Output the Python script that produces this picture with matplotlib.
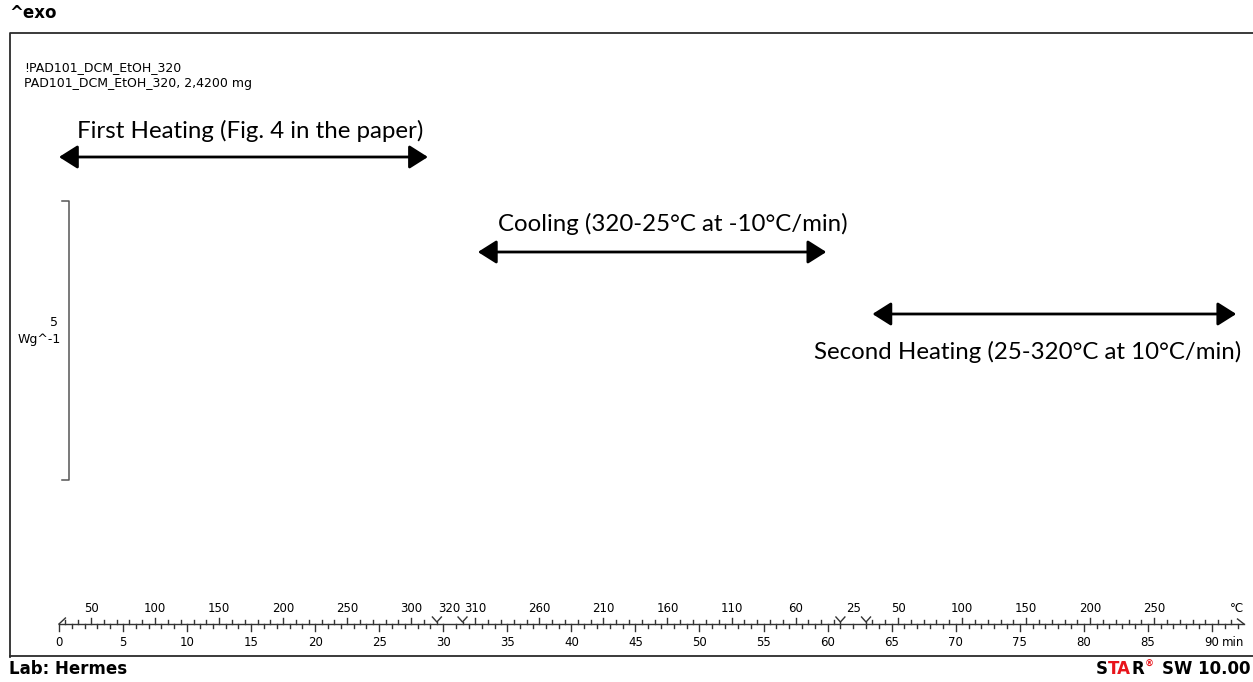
import matplotlib.pyplot as plt

# temperature program of the run: segment start/end times (min) and temperatures (°C)
seg_t0 = [0.0, 29.5, 31.5, 61.0, 63.0]
seg_t1 = [29.5, 31.5, 61.0, 63.0, 92.5]
seg_T0 = [25, 320, 320, 25, 25]
seg_T1 = [320, 320, 25, 25, 320]

# labelled temperatures on the ramps (segment index, °C)
ramp_labels = [(0, 50), (0, 100), (0, 150), (0, 200), (0, 250), (0, 300),
               (2, 310), (2, 260), (2, 210), (2, 160), (2, 110), (2, 60),
               (4, 50), (4, 100), (4, 150), (4, 200), (4, 250)]
# isotherm labels (segment index, text)
iso_labels = [(1, "320"), (3, "25")]

time_labels = [0, 5, 10, 15, 20, 25, 30, 35, 40, 45, 50, 55, 60, 65, 70, 75, 80, 85, 90]

# annotated ranges (min) and their captions
arrow_t0 = [0.0, 32.7, 63.5]
arrow_t1 = [28.8, 59.9, 91.9]
arrow_text = ["First Heating (Fig. 4 in the paper)",
              "Cooling (320-25°C at -10°C/min)",
              "Second Heating (25-320°C at 10°C/min)"]

sample = ["!PAD101_DCM_EtOH_320", "PAD101_DCM_EtOH_320, 2,4200 mg"]


def seg_time(i, T):
    rate = (seg_T1[i] - seg_T0[i]) / (seg_t1[i] - seg_t0[i])
    return seg_t0[i] + (T - seg_T0[i]) / rate


W, H = 1253, 682
fig = plt.figure(figsize=(W / 100, H / 100), dpi=100)

# page layout in pixels
lay = fig.add_axes([0, 0, 1, 1])
lay.set_xlim(0, W)
lay.set_ylim(H, 0)
lay.axis("off")

# curve area: minutes on x
x0, px_per_min = 59.0, 12.81
ax = fig.add_axes([0, 0, 1, 1])
ax.set_xlim(-x0 / px_per_min, (W - x0) / px_per_min)
ax.set_ylim(H, 0)
ax.axis("off")

small = dict(fontsize=8.5, family="DejaVu Sans")
head = dict(fontsize=12, fontweight="bold", family="DejaVu Sans")

frame_c = "#2b2b2b"
lay.plot([10, 10, W + 5], [657, 33, 33], color=frame_c, lw=1.3)
lay.plot([10, W + 5], [656, 656], color=frame_c, lw=1.3)

lay.text(9, 13, "^exo", ha="left", va="center", **head)
lay.text(9, 669, "Lab: Hermes", ha="left", va="center", **head)

# STAR SW footer, assembled right to left
sw = lay.text(1251, 669, "SW 10.00", ha="right", va="center", **head)
reg = lay.annotate("®", xy=(0, 0.5), xycoords=sw, xytext=(-6, 0), textcoords="offset points",
                   ha="right", va="bottom", fontsize=6.5, fontweight="bold",
                   family="DejaVu Sans", color="#e8141b")
r = lay.annotate("R", xy=(0, 0), xycoords=(reg, sw), xytext=(-1, 0),
                 textcoords="offset points", ha="right", va="bottom", **head)
ta = lay.annotate("TA", xy=(0, 0), xycoords=(r, sw), ha="right", va="bottom",
                  color="#e8141b", **head)
lay.annotate("S", xy=(0, 0), xycoords=(ta, sw), ha="right", va="bottom", **head)

for k, line in enumerate(sample):
    lay.text(24, 68 + 15 * k, line, ha="left", va="center", fontsize=9, family="DejaVu Sans")

# ordinate scale bar
lay.plot([62, 69, 69, 62], [201, 201, 480, 480], color="#555555", lw=1.1)
lay.text(58, 323, "5", ha="right", va="center", fontsize=9, family="DejaVu Sans")
lay.text(61, 340, "Wg^-1", ha="right", va="center", fontsize=9, family="DejaVu Sans")

# time / temperature axis
base = 624
ax_c = "#333333"
t_end = seg_t1[-1]
ax.plot([0, t_end], [base, base], color=ax_c, lw=1.0)
ax.plot([0, 0.5], [base, base - 6], color=ax_c, lw=1.0)
ax.plot([t_end - 0.5, t_end], [base - 5, base], color=ax_c, lw=1.0)

for m in range(0, int(t_end) + 1):
    ln = 7 if m % 5 == 0 else 4
    ax.plot([m, m], [base, base + ln], color=ax_c, lw=1.0)
for m in time_labels:
    ax.text(m, 642, str(m), ha="center", va="center", **small)
ax.text(time_labels[-1] + 0.75, 642, "min", ha="left", va="center", **small)

major = {}
for i, T in ramp_labels:
    major.setdefault(i, set()).add(T)
for i in (0, 2, 4):
    lo, hi = sorted((seg_T0[i], seg_T1[i]))
    for T in range(30, hi, 10):
        if T <= lo:
            continue
        t = seg_time(i, T)
        ln = 6 if T in major.get(i, ()) else 4
        ax.plot([t, t], [base, base - ln], color=ax_c, lw=1.0)
for i, T in ramp_labels:
    ax.text(seg_time(i, T), 608, str(T), ha="center", va="center", **small)
for i, s in iso_labels:
    ax.text((seg_t0[i] + seg_t1[i]) / 2, 608, s, ha="center", va="center", **small)
ax.text(t_end, 608, "°C", ha="right", va="center", **small)

# isotherm start/end markers
for i, s in iso_labels:
    for t in (seg_t0[i], seg_t1[i]):
        ax.plot([t - 0.35, t, t + 0.35], [base - 7, base - 2, base - 7], color=ax_c, lw=1.0)
        ax.plot([t, t], [base - 2, base], color=ax_c, lw=1.0)

# range annotations
arrow_y = [157, 252, 314]
text_pos = [(77, 131, "left"), (498, 224, "left"), (1241, 352, "right")]
for k in range(3):
    ax.annotate("", xy=(arrow_t1[k], arrow_y[k]), xytext=(arrow_t0[k], arrow_y[k]),
                arrowprops=dict(arrowstyle="<|-|>,head_length=0.95,head_width=0.6",
                                mutation_scale=12, lw=2.0, color="black",
                                shrinkA=0, shrinkB=0))
    tx, ty, ha = text_pos[k]
    lay.text(tx, ty, arrow_text[k], fontsize=17.3, family="Lato", ha=ha, va="center")

fig.savefig("out.png", dpi=100)
